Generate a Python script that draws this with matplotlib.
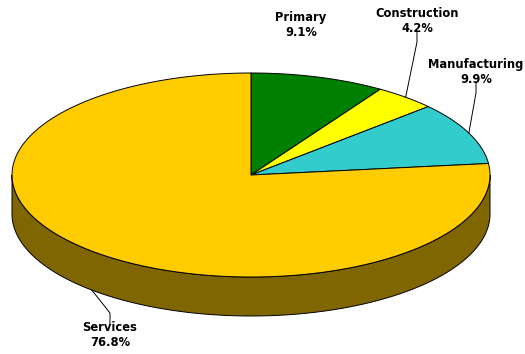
import numpy as np
import matplotlib.pyplot as plt
from matplotlib.patches import Polygon

sectors = ["Primary", "Construction", "Manufacturing", "Services"]
shares = [9.1, 4.2, 9.9, 76.8]
top_colors = ["#008000", "#FFFF00", "#33CCCC", "#FFCC00"]
side_colors = ["#004000", "#808000", "#1A6666", "#806600"]

# label anchor (text centre), pixel coords
label_pos = [(301, 25), (417, 21), (476, 72), (110, 335)]

cx, cy = 251, 175
rx, ry = 239, 102
depth = 39


def pt(t, dy=0):
    a = np.radians(t)
    return cx + rx * np.cos(a), cy - ry * np.sin(a) + dy


fig = plt.figure(figsize=(5.25, 3.54), dpi=100)
ax = fig.add_axes([0, 0, 1, 1])
ax.set_xlim(0, 525)
ax.set_ylim(354, 0)
ax.axis("off")

# angles run clockwise from 12 o'clock
bounds = 90 - 360 * np.concatenate([[0], np.cumsum(shares)]) / 100.0
spans = [(bounds[i + 1], bounds[i]) for i in range(len(shares))]

# side walls for the front half (180..360 deg)
for (a0, a1), col in zip(spans, side_colors):
    for off in (0, -360, 360):
        lo, hi = max(a0 + off, 180), min(a1 + off, 360)
        if hi <= lo:
            continue
        ts = np.linspace(lo, hi, 120)
        upper = [pt(t) for t in ts]
        lower = [pt(t, depth) for t in ts[::-1]]
        ax.add_patch(Polygon(upper + lower, closed=True, fc=col, ec="black", lw=0.7))

# top faces
for (a0, a1), col in zip(spans, top_colors):
    ts = np.linspace(a0, a1, 200)
    verts = [(cx, cy)] + [pt(t) for t in ts]
    ax.add_patch(Polygon(verts, closed=True, fc=col, ec="black", lw=0.7, joinstyle="round"))

# labels with leader lines
for i, (name, val) in enumerate(zip(sectors, shares)):
    lx, ly = label_pos[i]
    ax.text(lx, ly, f"{name}\n{val}%", ha="center", va="center",
            fontsize=8.3, fontweight="bold", linespacing=1.15)
    if i == 0:
        continue
    mid = (spans[i][0] + spans[i][1]) / 2
    dy = depth if np.sin(np.radians(mid)) < 0 else 0
    sx, sy = pt(mid, dy)
    if ly < cy:
        bend = (lx, ly + 21)
        end = (lx, ly + 11)
    else:
        bend = (lx, ly - 22)
        end = (lx, ly - 11)
    ax.plot([sx, bend[0], end[0]], [sy, bend[1], end[1]], color="black", lw=0.7)

fig.savefig("out.png", dpi=100)
